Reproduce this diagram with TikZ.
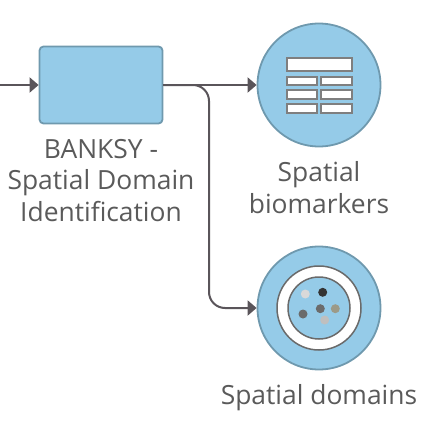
\documentclass[tikz,border=0pt]{standalone}
\usepackage{fontspec}
\setmainfont{Open Sans}
\usetikzlibrary{arrows.meta}
\definecolor{fillblue}{HTML}{95CBE8}
\definecolor{edgeblue}{HTML}{6F99AE}
\definecolor{linedark}{HTML}{5A555A}
\definecolor{textgray}{HTML}{5A5A5A}
\definecolor{tablegray}{HTML}{7F7F7F}
\definecolor{ringgray}{HTML}{6A6A6A}
\definecolor{dotolive}{HTML}{9C9A88}
\tikzset{
  x=1pt,y=-1pt,
  blockbox/.style={draw=edgeblue,fill=fillblue,line width=1.8pt,rounded corners=4pt,minimum width=123pt,minimum height=77pt,inner sep=0pt},
  bigcircle/.style={circle,draw=edgeblue,fill=fillblue,line width=1.8pt,minimum size=123pt,inner sep=0pt},
  connector/.style={draw=linedark,line width=2pt,-{Triangle[length=9pt,width=15pt]}},
  labeltext/.style={text=textgray,font=\fontsize{26.4pt}{31.5pt}\selectfont,align=center,inner sep=0pt},
  cell/.style={draw=tablegray,fill=white,line width=1.8pt},
  dot/.style={circle,inner sep=0pt,minimum size=9pt},
}
\begin{document}
\begin{tikzpicture}
\useasboundingbox (0,0) rectangle (444,428);
\coordinate (start) at (0,85);
\node[blockbox] (banksy) at (101,85) {};
\node[bigcircle] (biomarkers) at (319,85) {};
\node[bigcircle] (domains) at (319,308) {};
\draw[connector] (start) -- (banksy.west);
\draw[connector] (banksy.east) -- (biomarkers.west);
\draw[connector,rounded corners=16pt] (banksy.east) -- (209,85) -- (209,308) -- (domains.west);
\node[labeltext] (lblbanksy) at (101,180.5) {BANKSY -\\Spatial Domain\\Identification};
\node[labeltext] (lblbio) at (319,187.5) {Spatial\\biomarkers};
\node[labeltext] (lbldom) at (319,398) {Spatial domains};
\draw[cell] (286.7,58.3) rectangle (352.3,71.3);
\draw[cell] (286.7,76.7) rectangle (316.7,85);
\draw[cell] (321.3,76.7) rectangle (352.3,85);
\draw[cell] (286.7,90.3) rectangle (316.7,99);
\draw[cell] (321.3,90.3) rectangle (352.3,99);
\draw[cell] (286.7,104) rectangle (316.7,112.7);
\draw[cell] (321.3,104) rectangle (352.3,112.7);
\node[circle,draw=ringgray,fill=white,line width=1.5pt,minimum size=84pt,inner sep=0pt] (ringout) at (domains.center) {};
\node[circle,draw=ringgray,fill=fillblue,line width=1.5pt,minimum size=62pt,inner sep=0pt] (ringin) at (domains.center) {};
\node[dot,fill=black!15] (d1) at (305.3,294) {};
\node[dot,fill=black!80] (d2) at (322.7,292.3) {};
\node[dot,fill=black!58] (d3) at (303,314) {};
\node[dot,fill=black!58] (d4) at (320.3,308.7) {};
\node[dot,fill=dotolive] (d5) at (335.3,308.7) {};
\node[dot,fill=black!25] (d6) at (324.7,320) {};
\end{tikzpicture}
\end{document}
